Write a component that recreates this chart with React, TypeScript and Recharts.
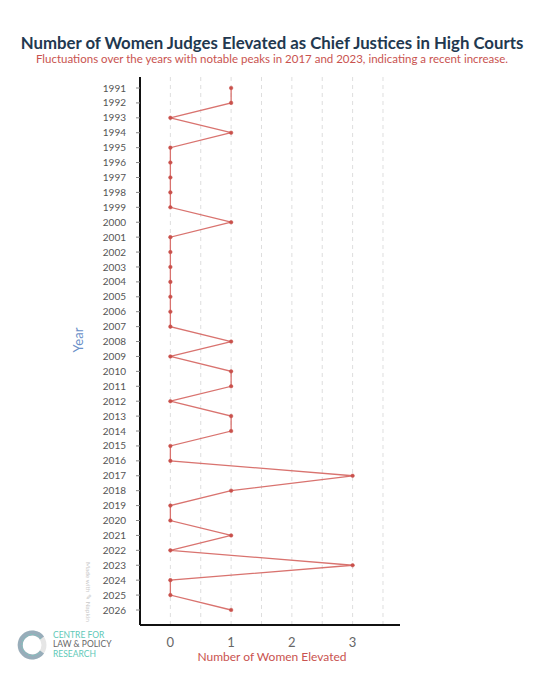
import React from "react";
import { LineChart, Line, XAxis, YAxis, ReferenceLine } from "recharts";

const years = [
  "1991", "1992", "1993", "1994", "1995", "1996", "1997", "1998", "1999", "2000",
  "2001", "2002", "2003", "2004", "2005", "2006", "2007", "2008", "2009", "2010",
  "2011", "2012", "2013", "2014", "2015", "2016", "2017", "2018", "2019", "2020",
  "2021", "2022", "2023", "2024", "2025", "2026",
];
const womenElevated = [
  1, 1, 0, 1, 0, 0, 0, 0, 0, 1,
  0, 0, 0, 0, 0, 0, 0, 1, 0, 1,
  1, 0, 1, 1, 0, 0, 3, 1, 0, 0,
  1, 0, 3, 0, 0, 1,
];
const xTicks = [0, 1, 2, 3];
const gridValues = [0, 0.5, 1, 1.5, 2, 2.5, 3, 3.5];

const data = years.map((year, i) => ({ year, value: womenElevated[i] }));

const FONT = "Lato, 'Open Sans', sans-serif";

function Logo() {
  return (
    <div style={{ position: "absolute", left: 17, top: 630, display: "flex", alignItems: "center" }}>
      <svg width={30} height={30} viewBox="0 0 30 30">
        <circle cx={15} cy={15} r={12} fill="none" stroke="#e6e6e6" strokeWidth={5} />
        <path d="M 25 8 A 12 12 0 1 0 25 22" fill="none" stroke="#98adba" strokeWidth={5} />
        <path d="M 24 9 A 10.5 10.5 0 1 0 24 21" fill="none" stroke="#7cc7bd" strokeWidth={1} strokeDasharray="2 1.5" />
      </svg>
      <div style={{ marginLeft: 6, fontFamily: FONT, fontSize: 8.5, lineHeight: "9.5px" }}>
        <div style={{ color: "#5ec9b8" }}>CENTRE FOR</div>
        <div style={{ color: "#666" }}>LAW &amp; POLICY</div>
        <div style={{ color: "#5ec9b8" }}>RESEARCH</div>
      </div>
    </div>
  );
}

export default function App() {
  return (
    <div style={{ position: "absolute", left: 0, top: 0, width: 544, height: 680, background: "#fff", fontFamily: FONT }}>
      <div style={{ position: "absolute", top: 32, width: 544, textAlign: "center", fontSize: 16.8, fontWeight: 700, color: "#22384f", whiteSpace: "nowrap" }}>
        Number of Women Judges Elevated as Chief Justices in High Courts
      </div>
      <div style={{ position: "absolute", top: 52, width: 544, textAlign: "center", fontSize: 11.5, color: "#c9534f", whiteSpace: "nowrap" }}>
        Fluctuations over the years with notable peaks in 2017 and 2023, indicating a recent increase.
      </div>

      <div style={{ position: "absolute", left: 0, top: 0 }}>
        <LineChart
          width={544}
          height={680}
          data={data}
          layout="vertical"
          margin={{ top: 77, right: 144, bottom: 25, left: 100 }}
        >
          {gridValues.map((v) => (
            <ReferenceLine key={v} x={v} stroke="#dedede" strokeDasharray="4 4" />
          ))}
          <XAxis
            type="number"
            dataKey="value"
            domain={[-0.5, 3.78]}
            allowDataOverflow
            ticks={xTicks}
            height={30}
            axisLine={{ stroke: "#111", strokeWidth: 2 }}
            tickLine={false}
            tickMargin={7}
            tick={{ fontSize: 13, fill: "#666", fontFamily: FONT }}
          />
          <YAxis
            type="category"
            dataKey="year"
            scale="point"
            width={40}
            interval={0}
            padding={{ top: 11, bottom: 15 }}
            axisLine={{ stroke: "#111", strokeWidth: 2 }}
            tickLine={{ stroke: "#888" }}
            tickSize={4}
            tickMargin={10}
            tick={{ fontSize: 10, fill: "#555", fontFamily: FONT }}
          />
          <Line
            type="linear"
            dataKey="value"
            stroke="#d9736f"
            strokeWidth={1.3}
            dot={{ r: 1.8, fill: "#c9504b", stroke: "#c9504b", strokeWidth: 0.5 }}
            activeDot={false}
            isAnimationActive={false}
          />
        </LineChart>
      </div>

      <div style={{ position: "absolute", top: 649, left: 140, width: 264, textAlign: "center", fontSize: 12, color: "#c9534f" }}>
        Number of Women Elevated
      </div>
      <div
        style={{
          position: "absolute",
          left: 78,
          top: 340,
          transform: "translate(-50%, -50%) rotate(-90deg)",
          fontSize: 13,
          color: "#6a8fc8",
          whiteSpace: "nowrap",
        }}
      >
        Year
      </div>
      <div
        style={{
          position: "absolute",
          left: 88,
          top: 592,
          transform: "translate(-50%, -50%) rotate(90deg)",
          fontSize: 6.5,
          color: "#c8c8c8",
          whiteSpace: "nowrap",
        }}
      >
        Made with ✎ Napkin
      </div>
      <Logo />
    </div>
  );
}
